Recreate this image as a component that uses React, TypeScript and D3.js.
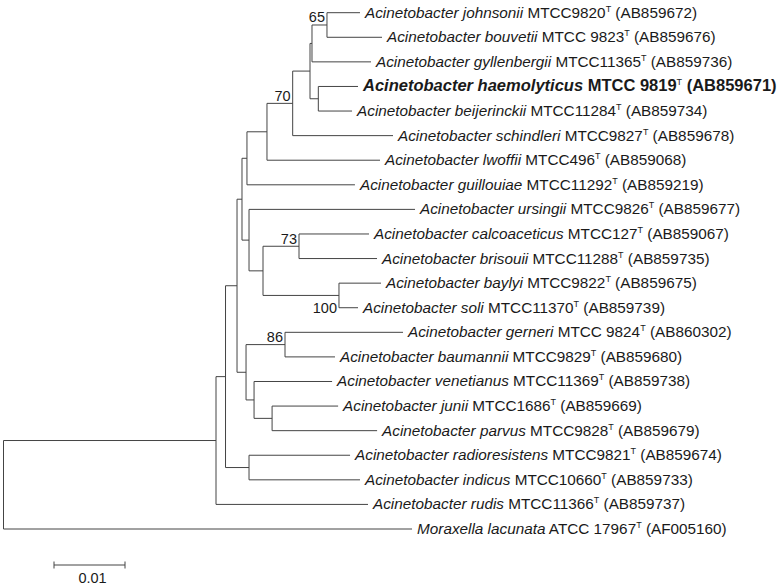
import React from "react";
import * as d3 from "d3";

// Leaf labels, top to bottom
const leafIds = [
  "johnsonii", "bouvetii", "gyllenbergii", "haemolyticus", "beijerinckii", "schindleri",
  "lwoffii", "guillouiae", "ursingii", "calcoaceticus", "brisouii", "baylyi", "soli",
  "gerneri", "baumannii", "venetianus", "junii", "parvus", "radioresistens", "indicus",
  "rudis", "lacunata",
];
const taxa = [
  "Acinetobacter johnsonii", "Acinetobacter bouvetii", "Acinetobacter gyllenbergii",
  "Acinetobacter haemolyticus", "Acinetobacter beijerinckii", "Acinetobacter schindleri",
  "Acinetobacter lwoffii", "Acinetobacter guillouiae", "Acinetobacter ursingii",
  "Acinetobacter calcoaceticus", "Acinetobacter brisouii", "Acinetobacter baylyi",
  "Acinetobacter soli", "Acinetobacter gerneri", "Acinetobacter baumannii",
  "Acinetobacter venetianus", "Acinetobacter junii", "Acinetobacter parvus",
  "Acinetobacter radioresistens", "Acinetobacter indicus", "Acinetobacter rudis",
  "Moraxella lacunata",
];
const strains = [
  "MTCC9820", "MTCC 9823", "MTCC11365", "MTCC 9819", "MTCC11284", "MTCC9827",
  "MTCC496", "MTCC11292", "MTCC9826", "MTCC127", "MTCC11288", "MTCC9822",
  "MTCC11370", "MTCC 9824", "MTCC9829", "MTCC11369", "MTCC1686", "MTCC9828",
  "MTCC9821", "MTCC10660", "MTCC11366", "ATCC 17967",
];
const accessions = [
  "AB859672", "AB859676", "AB859736", "AB859671", "AB859734", "AB859678",
  "AB859068", "AB859219", "AB859677", "AB859067", "AB859735", "AB859675",
  "AB859739", "AB860302", "AB859680", "AB859738", "AB859669", "AB859679",
  "AB859674", "AB859733", "AB859737", "AF005160",
];
const highlighted = "haemolyticus";

// Tree edges (child, parent, branch length), children listed top to bottom
const edgeChild = [
  "n1", "lacunata",
  "n2", "rudis",
  "n3", "n20",
  "n4", "n5",
  "n6", "n7",
  "n8", "guillouiae",
  "n9", "lwoffii",
  "n10", "schindleri",
  "n11", "n12",
  "n13", "gyllenbergii",
  "johnsonii", "bouvetii",
  "haemolyticus", "beijerinckii",
  "ursingii", "n14",
  "n15", "n16",
  "calcoaceticus", "brisouii",
  "baylyi", "soli",
  "n17", "n18",
  "gerneri", "baumannii",
  "venetianus", "n19",
  "junii", "parvus",
  "radioresistens", "indicus",
];
const edgeParent = [
  "root", "root",
  "n1", "n1",
  "n2", "n2",
  "n3", "n3",
  "n4", "n4",
  "n6", "n6",
  "n8", "n8",
  "n9", "n9",
  "n10", "n10",
  "n11", "n11",
  "n13", "n13",
  "n12", "n12",
  "n7", "n7",
  "n14", "n14",
  "n15", "n15",
  "n16", "n16",
  "n5", "n5",
  "n17", "n17",
  "n18", "n18",
  "n19", "n19",
  "n20", "n20",
];
const edgeLength = [
  0.02993, 0.05754,
  0.00134, 0.02141,
  0.00162, 0.00331,
  0.00070, 0.00127,
  0.00070, 0.00099,
  0.00282, 0.01521,
  0.00362, 0.01592,
  0.00244, 0.01413,
  0.00028, 0.00117,
  0.00211, 0.00831,
  0.00465, 0.00775,
  0.00559, 0.00475,
  0.02338, 0.00197,
  0.00507, 0.01070,
  0.00986, 0.01099,
  0.00592, 0.00268,
  0.00549, 0.00113,
  0.01662, 0.00704,
  0.01099, 0.00254,
  0.00930, 0.01479,
  0.01423, 0.01563,
];

// Bootstrap support
const bootNodes = ["n13", "n9", "n15", "n16", "n17"];
const bootValues = [65, 70, 73, 100, 86];
const bootBelow = [false, false, false, true, false];

const scaleBarValue = 0.01;
const scaleBarLabel = "0.01";

type Row = { id: string; parent: string | null; len: number };

export default function App() {
  const W = 782;
  const H = 587;
  const rows: Row[] = [{ id: "root", parent: null, len: 0 }];
  edgeChild.forEach((c, i) => rows.push({ id: c, parent: edgeParent[i], len: edgeLength[i] }));

  const root = d3
    .stratify<Row>()
    .id((d) => d.id)
    .parentId((d) => d.parent)(rows);

  const xScale = d3.scaleLinear().domain([0, 0.01]).range([3.5, 74.5]);
  const yScale = d3.scaleLinear().domain([0, leafIds.length - 1]).range([12.7, 529]);

  const dist = new Map<string, number>();
  root.eachBefore((n: any) => {
    const pd = n.parent ? dist.get(n.parent.id)! : 0;
    dist.set(n.id, pd + n.data.len);
  });
  const pos = new Map<string, { x: number; y: number }>();
  root.eachAfter((n: any) => {
    let y: number;
    if (!n.children) {
      y = yScale(leafIds.indexOf(n.id));
    } else {
      const f = pos.get(n.children[0].id)!.y;
      const l = pos.get(n.children[n.children.length - 1].id)!.y;
      y = (f + l) / 2;
    }
    pos.set(n.id, { x: xScale(dist.get(n.id)!), y });
  });

  const stroke = "#444";
  const lines: JSX.Element[] = [];
  root.each((n: any) => {
    const p = pos.get(n.id)!;
    if (n.parent) {
      const pp = pos.get(n.parent.id)!;
      lines.push(
        <line key={"h" + n.id} x1={pp.x} x2={p.x} y1={p.y} y2={p.y} stroke={stroke} strokeWidth={1} />
      );
    }
    if (n.children) {
      const f = pos.get(n.children[0].id)!.y;
      const l = pos.get(n.children[n.children.length - 1].id)!.y;
      lines.push(
        <line key={"v" + n.id} x1={p.x} x2={p.x} y1={f} y2={l} stroke={stroke} strokeWidth={1} />
      );
    }
  });

  const font = "'Liberation Sans', Arial, Helvetica, sans-serif";
  const leaves = root.leaves();

  const barX0 = 54;
  const barY = 565;
  const barLen = xScale(scaleBarValue) - xScale(0);

  return (
    <svg
      width={W}
      height={H}
      style={{ position: "absolute", left: 0, top: 0, background: "#fff" }}
      fontFamily={font}
    >
      <rect x={0} y={0} width={W} height={H} fill="#fff" />
      <g>{lines}</g>
      <g>
        {leaves.map((n: any) => {
          const i = leafIds.indexOf(n.id);
          const p = pos.get(n.id)!;
          const bold = n.id === highlighted;
          return (
            <text
              key={n.id}
              x={p.x + 5}
              y={p.y + 5}
              fontSize={bold ? 16.5 : 15.3}
              fill="#1a1a1a"
              fontWeight={bold ? "bold" : "normal"}
              style={{ whiteSpace: "pre" }}
            >
              <tspan fontStyle="italic">{taxa[i]}</tspan>
              <tspan>{" " + strains[i]}</tspan>
              <tspan fontSize={9} fontWeight="normal" dy={-6}>T</tspan>
              <tspan dy={6}>{" (" + accessions[i] + ")"}</tspan>
            </text>
          );
        })}
      </g>
      <g>
        {bootNodes.map((id, k) => {
          const p = pos.get(id)!;
          return (
            <text
              key={id}
              x={p.x - 2}
              y={bootBelow[k] ? p.y + 18 : p.y - 2.5}
              textAnchor="end"
              fontSize={14.5}
              fill="#1a1a1a"
            >
              {bootValues[k]}
            </text>
          );
        })}
      </g>
      <g>
        <line x1={barX0} x2={barX0 + barLen} y1={barY} y2={barY} stroke={stroke} />
        <line x1={barX0} x2={barX0} y1={barY - 3.5} y2={barY + 3.5} stroke={stroke} />
        <line x1={barX0 + barLen} x2={barX0 + barLen} y1={barY - 3.5} y2={barY + 3.5} stroke={stroke} />
        <text x={barX0 + barLen / 2 + 3} y={barY + 18} textAnchor="middle" fontSize={14.5} fill="#1a1a1a">
          {scaleBarLabel}
        </text>
      </g>
    </svg>
  );
}
